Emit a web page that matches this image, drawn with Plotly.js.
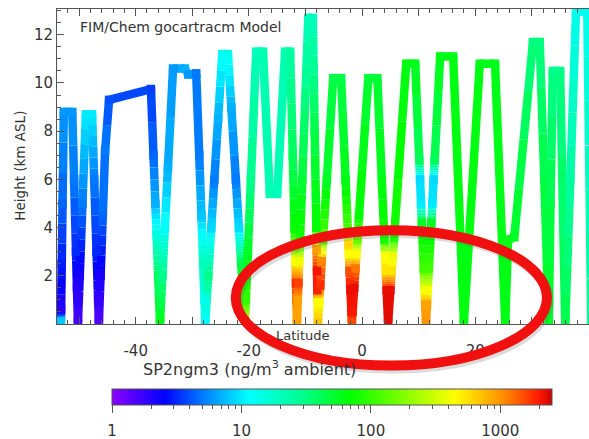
<!DOCTYPE html>
<html>
<head>
<meta charset="utf-8">
<script src="https://cdn.plot.ly/plotly-3.0.1.min.js"></script>
<style>
  html, body { margin: 0; padding: 0; background: #fff; }
  #chart { width: 589px; height: 439px; }
</style>
</head>
<body>
<div id="chart"></div>
<script>
// Flight track: latitude (deg), altitude (km ASL) and modelled black carbon (ng/m3)
const latitude = [
  -53.2, -53.17, -53.06, -52.92, -52.7,
  -51.2, -50.88, -50.54, -50.37, -50.2,
  -49.88, -49.4, -48.8,
  -47.7, -47.33, -46.91, -46.63, -46.5,
  -46.2, -45.81, -45.4, -44.7,
  -37.3, -36.85, -36.52, -36.3, -36.02, -35.7,
  -35.27, -34.84, -34.29, -33.4,
  -31.3, -30.7, -29.3,
  -28.77, -28.38, -28.07, -27.84, -27.7,
  -27.18, -26.64, -26.1, -25.43, -24.7,
  -23.7, -23.1, -22.3, -21.76, -21.36, -20.96, -20.7,
  -20.53, -20.17, -19.64, -18.7,
  -17.5, -16.3, -15.0, -13.6, -12.7,
  -12.24, -11.92, -11.83, -11.77, -11.67, -11.6, -11.5,
  -11.35, -11.24, -11.1, -10.95, -10.56, -9.5,
  -8.7, -8.37, -8.08, -8.02, -7.96, -7.9, -7.86, -7.8,
  -7.57, -7.39, -7.12, -6.88, -6.22, -5.1,
  -3.7, -2.91, -2.5, -2.4, -2.33, -2.2, -2.05, -1.88, -1.8,
  -1.67, -1.39, -1.16, -0.99, -0.81, -0.53, 1.1,
  2.7, 3.49, 3.95, 4.08, 4.2, 4.35, 4.6,
  5.0, 5.24, 5.42, 5.66, 7.8,
  9.4, 10.11, 10.25, 10.42, 10.57, 10.9, 11.06, 11.16, 11.3,
  11.47, 11.6, 11.81, 12.24, 12.42, 12.64, 12.83, 13.8,
  16.1, 18.0, 20.8, 23.5, 25.3,
  25.8, 26.9, 30.2, 31.4, 32.2, 33.0,
  33.3, 33.7, 35.0, 35.9,
  36.8, 37.8, 39.8, 40.5
];
const altitudeKm = [
  0.10, 0.6, 2.5, 5.0, 8.8,
  8.8, 6.0, 3.0, 1.5, 0.05,
  2.0, 5.0, 8.7,
  8.7, 6.0, 3.0, 1.0, 0.05,
  2.0, 4.5, 7.2, 9.3,
  9.75, 7.0, 5.0, 3.7, 2.0, 0.05,
  2.0, 4.0, 6.5, 10.6,
  10.6, 10.35, 10.4,
  7.0, 4.5, 2.5, 1.0, 0.05,
  2.0, 4.0, 6.0, 8.5, 11.2,
  11.2, 9.0, 6.0, 4.0, 2.5, 1.0, 0.05,
  1.0, 3.0, 6.0, 11.3,
  11.3, 5.4, 5.4, 11.3, 11.3,
  7.0, 4.0, 3.2, 2.6, 1.7, 1.0, 0.05,
  1.0, 1.7, 2.6, 3.5, 6.0, 12.7,
  12.7, 8.0, 4.0, 3.1, 2.2, 1.4, 0.9, 0.05,
  0.9, 1.6, 2.6, 3.5, 6.0, 10.2,
  10.2, 6.0, 3.8, 3.3, 2.9, 2.2, 1.4, 0.5, 0.05,
  0.5, 1.5, 2.3, 2.9, 3.5, 4.5, 10.2,
  10.2, 6.0, 3.5, 2.8, 2.2, 1.4, 0.05,
  1.4, 2.2, 2.8, 3.6, 10.8,
  10.8, 6.8, 6.0, 5.0, 4.2, 2.3, 1.4, 0.8, 0.05,
  0.8, 1.4, 2.3, 4.2, 5.0, 6.0, 6.8, 11.1,
  11.1, 0.05, 10.8, 10.8, 0.05,
  3.5, 3.6, 11.7, 11.7, 6.0, 0.05,
  5.0, 10.5, 10.5, 0.05,
  6.0, 12.95, 12.95, 0.05
];
const bcNgM3 = [
  8, 2, 3, 4.5, 6,
  6, 5, 3.2, 2, 1.6,
  2.2, 5, 10,
  10, 5, 3.2, 1.8, 1.5,
  2.2, 4.5, 5, 4,
  3.6, 4.5, 7, 15, 40, 60,
  30, 12, 7, 6,
  7, 6, 5,
  5, 8, 20, 13, 11,
  30, 9, 5, 7, 12,
  13, 7, 5, 9, 45, 90, 300,
  100, 55, 30, 20,
  22, 22, 20, 22, 25,
  40, 70, 150, 450, 1800, 1200, 900,
  900, 1600, 400, 80, 50, 20,
  20, 45, 70, 900, 2100, 1900, 450, 700,
  450, 1800, 1100, 120, 55, 45,
  45, 60, 120, 600, 450, 1500, 2200, 2000, 1500,
  2000, 2200, 1200, 450, 150, 70, 50,
  50, 60, 80, 450, 550, 2200, 2300,
  2200, 550, 400, 80, 60,
  60, 40, 9, 10, 55, 110, 420, 900, 1000,
  900, 420, 110, 55, 10, 9, 40, 60,
  60, 65, 60, 58, 62,
  60, 55, 32, 32, 45, 55,
  45, 30, 30, 45,
  25, 13, 13, 30
];

// Axis and colour bar tick labels
const latTickValues = [-50, -40, -30, -20, -10, 0, 10, 20, 30, 40];
const latTickLabels = ['', '-40', '', '-20', '', '0', '', '20', '', ''];
const altTickValues = [0, 2, 4, 6, 8, 10, 12];
const altTickLabels = ['', '2', '4', '6', '8', '10', '12'];
const bcDecades = [1, 10, 100, 1000];
const bcDecadeLabels = ['1', '10', '100', '1000'];
const bcMinorValues = [2, 3, 4, 5, 6, 7, 8, 9, 20, 30, 40, 50, 60, 70, 80, 90,
                       200, 300, 400, 500, 600, 700, 800, 900, 2000];

const LOG_MAX = 3.4;   // colour range 1 .. ~2500 ng/m3
const rainbow = [
  [0.00, '#8c00ff'], [0.12, '#0000ff'], [0.21, '#0080ff'], [0.31, '#00ffff'],
  [0.43, '#00ff90'], [0.54, '#00ff00'], [0.78, '#ffff00'], [0.89, '#ff8c00'],
  [0.97, '#ff1a00'], [1.00, '#cc0000']
];

function hexRgb(h) {
  return [parseInt(h.slice(1, 3), 16), parseInt(h.slice(3, 5), 16), parseInt(h.slice(5, 7), 16)];
}
// Look up a colour on the rainbow scale for a log10 concentration
function colourFor(logValue) {
  const t = Math.max(0, Math.min(1, logValue / LOG_MAX));
  for (let i = 1; i < rainbow.length; i++) {
    if (t <= rainbow[i][0]) {
      const [t0, c0] = rainbow[i - 1];
      const [t1, c1] = rainbow[i];
      const f = (t - t0) / (t1 - t0);
      const a = hexRgb(c0), b = hexRgb(c1);
      const rgb = a.map((v, k) => Math.round(v + (b[k] - v) * f));
      return 'rgb(' + rgb.join(',') + ')';
    }
  }
  return rainbow[rainbow.length - 1][1];
}

const logBc = bcNgM3.map(v => Math.log10(v));
const traces = [];
const BAR_Y = -0.205;

// Colour-bar layers: labels (pushed down by clear ticks), decade ticks, then the bar itself
function barLayer(opts) {
  return {
    type: 'scatter', mode: 'markers',
    x: [latitude[0]], y: [altitudeKm[0]],
    marker: {
      size: 1, opacity: 0, color: [0], cmin: 0, cmax: LOG_MAX,
      colorscale: rainbow, showscale: true,
      colorbar: Object.assign({
        orientation: 'h',
        x: 0.517, xanchor: 'center',
        y: BAR_Y, yanchor: 'top',
        len: 440, lenmode: 'pixels',
        thickness: 16, thicknessmode: 'pixels',
        xpad: 0, ypad: 0,
        outlinewidth: 0,
        ticks: 'outside', tickwidth: 1,
        tickmode: 'array',
        tickfont: { family: 'DejaVu Sans', size: 15, color: '#333' }
      }, opts)
    },
    hoverinfo: 'skip', showlegend: false
  };
}
traces.push(barLayer({
  ticklen: 13, tickcolor: 'rgba(0,0,0,0)',
  tickvals: bcDecades.map(v => Math.log10(v)), ticktext: bcDecadeLabels
}));
traces.push(barLayer({
  ticklen: 8, tickcolor: '#555', showticklabels: false,
  tickvals: bcDecades.map(v => Math.log10(v))
}));

// Each leg is stroked as a short run of pieces whose colour follows the concentration
for (let i = 0; i < latitude.length - 1; i++) {
  const a = logBc[i], b = logBc[i + 1];
  const pieces = Math.max(1, Math.ceil(Math.abs(b - a) / 0.06));
  for (let j = 0; j < pieces; j++) {
    const f0 = j / pieces, f1 = (j + 1) / pieces, fm = (f0 + f1) / 2;
    traces.push({
      type: 'scatter', mode: 'lines',
      x: [latitude[i] + (latitude[i + 1] - latitude[i]) * f0,
          latitude[i] + (latitude[i + 1] - latitude[i]) * f1],
      y: [altitudeKm[i] + (altitudeKm[i + 1] - altitudeKm[i]) * f0,
          altitudeKm[i] + (altitudeKm[i + 1] - altitudeKm[i]) * f1],
      line: { color: colourFor(a + (b - a) * fm), width: 8.5 },
      hoverinfo: 'skip', showlegend: false
    });
  }
}

// Track vertices on the same scale (fills the corners); also draws the visible bar
traces.push({
  type: 'scatter', mode: 'markers',
  x: latitude, y: altitudeKm,
  marker: {
    size: 8.5, symbol: 'square', color: logBc, cmin: 0, cmax: LOG_MAX,
    colorscale: rainbow, line: { width: 0 },
    showscale: true,
    colorbar: {
      orientation: 'h',
      x: 0.517, xanchor: 'center',
      y: BAR_Y, yanchor: 'top',
      len: 440, lenmode: 'pixels',
      thickness: 16, thicknessmode: 'pixels',
      xpad: 0, ypad: 0,
      outlinewidth: 1, outlinecolor: '#555',
      ticks: 'outside', ticklen: 4, tickcolor: '#555', tickwidth: 1,
      tickmode: 'array',
      tickvals: bcMinorValues.map(v => Math.log10(v)),
      showticklabels: false
    }
  },
  hoverinfo: 'skip', showlegend: false
});

const axisFont = { family: 'DejaVu Sans', size: 15, color: '#333' };

const layout = {
  width: 589, height: 439,
  margin: { l: 57, r: 0, t: 9, b: 111 },
  paper_bgcolor: '#ffffff', plot_bgcolor: '#ffffff',
  font: { family: 'DejaVu Sans', color: '#333' },
  xaxis: {
    range: [-53.9, 40.1],
    showgrid: false, zeroline: false,
    showline: true, linecolor: '#555', linewidth: 1, mirror: 'ticks',
    ticks: 'inside', ticklen: 7, tickcolor: '#555', tickwidth: 1,
    tickmode: 'array', tickvals: latTickValues, ticktext: latTickLabels,
    ticklabelstandoff: 13,
    minor: { ticks: 'inside', dtick: 2, ticklen: 4, tickcolor: '#555', tickwidth: 1, showgrid: false },
    tickfont: axisFont
  },
  yaxis: {
    range: [0, 13.07],
    showgrid: false, zeroline: false,
    showline: true, linecolor: '#555', linewidth: 1,
    ticks: 'inside', ticklen: 7, tickcolor: '#555', tickwidth: 1,
    tickmode: 'array', tickvals: altTickValues, ticktext: altTickLabels,
    minor: { ticks: 'inside', dtick: 0.5, ticklen: 4, tickcolor: '#555', tickwidth: 1, showgrid: false },
    tickfont: axisFont
  },
  annotations: [
    { text: 'FIM/Chem gocartracm Model', xref: 'paper', yref: 'paper',
      x: 0.04, y: 0.944, xanchor: 'left', yanchor: 'middle', showarrow: false,
      font: { family: 'DejaVu Sans', size: 14, color: '#333' } },
    { text: 'Latitude', xref: 'paper', yref: 'paper',
      x: 0.462, y: -0.038, xanchor: 'center', yanchor: 'middle', showarrow: false,
      font: { family: 'DejaVu Sans', size: 13, color: '#333' } },
    { text: 'Height (km ASL)', xref: 'paper', yref: 'paper', textangle: -90,
      x: -0.07, y: 0.502, xanchor: 'center', yanchor: 'middle', showarrow: false,
      font: { family: 'DejaVu Sans', size: 13.5, color: '#333' } },
    { text: 'SP2ngm3 (ng/m<sup>3</sup> ambient)', xref: 'paper', yref: 'paper',
      x: 0.157, y: -0.141, xanchor: 'left', yanchor: 'middle', showarrow: false,
      font: { family: 'DejaVu Sans', size: 16, color: '#333' } }
  ],
  shapes: [
    // soft shadow under the highlight ring
    { type: 'circle', xref: 'paper', yref: 'paper', layer: 'above',
      x0: 0.340, x1: 0.925, y0: -0.141, y1: 0.289,
      line: { color: 'rgba(90,90,90,0.22)', width: 10 } },
    // highlight ring around the low-level outflow
    { type: 'circle', xref: 'paper', yref: 'paper', layer: 'above',
      x0: 0.336, x1: 0.921, y0: -0.132, y1: 0.298,
      line: { color: '#f01010', width: 10 } }
  ]
};

Plotly.newPlot('chart', traces, layout, { staticPlot: true, displayModeBar: false });
</script>
</body>
</html>
